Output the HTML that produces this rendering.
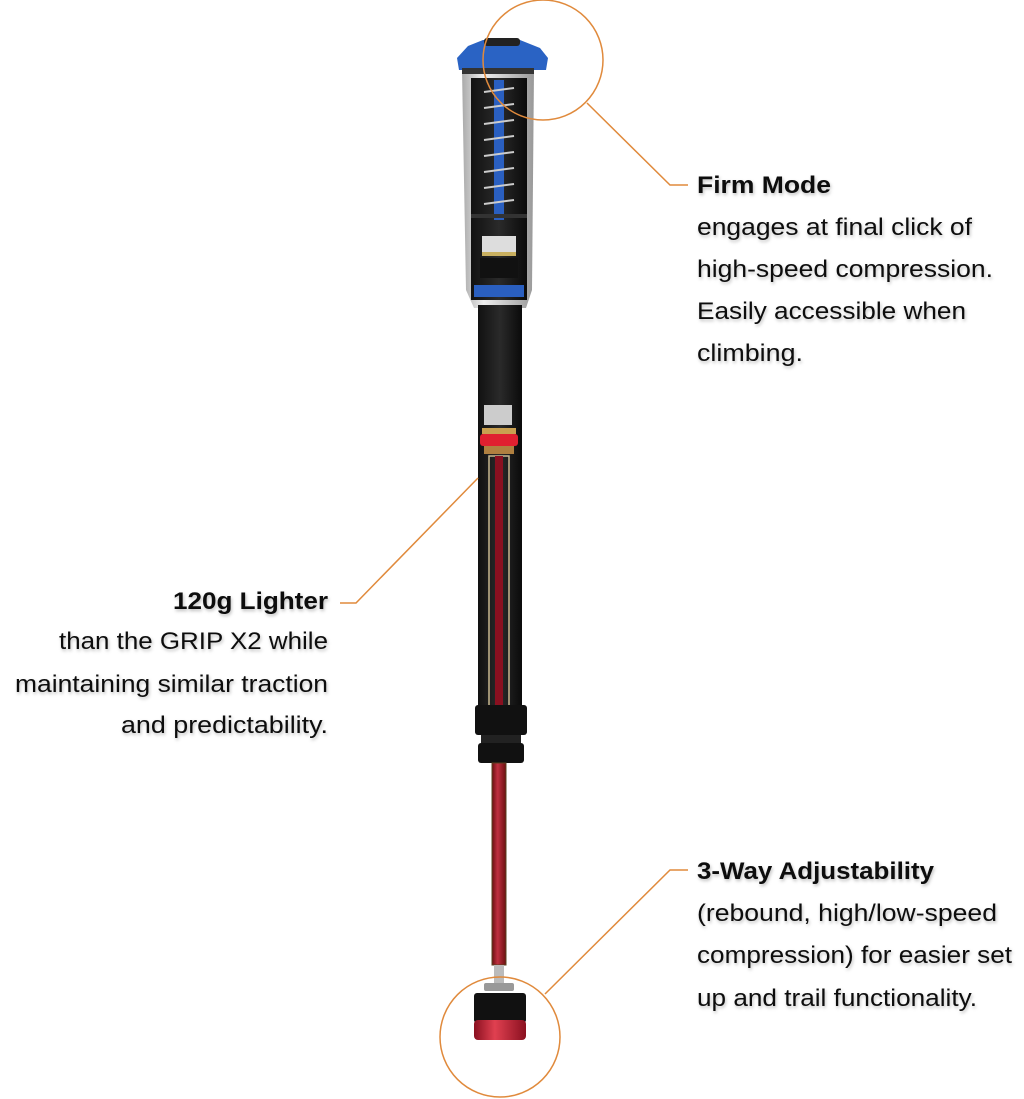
<!DOCTYPE html>
<html><head><meta charset="utf-8"><style>
html,body{margin:0;padding:0;background:#fff;}
svg{display:block}
text{font-family:"Liberation Sans",Arial,sans-serif;font-size:24.5px;fill:#111;}
.b{font-weight:bold}
</style></head><body>
<svg width="1024" height="1099" viewBox="0 0 1024 1099" xmlns="http://www.w3.org/2000/svg">
<defs>
<linearGradient id="blk" x1="0" x2="1"><stop offset="0" stop-color="#111"/><stop offset="0.5" stop-color="#2a2a2a"/><stop offset="1" stop-color="#0a0a0a"/></linearGradient>
<linearGradient id="gry" x1="0" x2="1"><stop offset="0" stop-color="#aaa"/><stop offset="0.3" stop-color="#eee"/><stop offset="1" stop-color="#999"/></linearGradient>
<linearGradient id="red" x1="0" x2="1"><stop offset="0" stop-color="#6a1010"/><stop offset="0.4" stop-color="#c03040"/><stop offset="1" stop-color="#6a1010"/></linearGradient>
<linearGradient id="red2" x1="0" x2="1"><stop offset="0" stop-color="#8a1020"/><stop offset="0.4" stop-color="#e04050"/><stop offset="1" stop-color="#8a1020"/></linearGradient>
<filter id="sh"><feDropShadow dx="1" dy="2" stdDeviation="1.5" flood-color="#000" flood-opacity="0.25"/></filter>
</defs>
<path d="M462 70 L534 70 L532 290 L526 308 L474 308 L466 290 Z" fill="url(#gry)"/>
<rect x="471" y="78" width="56" height="222" fill="url(#blk)"/>
<rect x="494" y="80" width="10" height="140" fill="#2a5fc0"/>
<g stroke="#ccc" stroke-width="2">
<line x1="484" y1="92" x2="514" y2="88"/><line x1="484" y1="108" x2="514" y2="104"/><line x1="484" y1="124" x2="514" y2="120"/><line x1="484" y1="140" x2="514" y2="136"/><line x1="484" y1="156" x2="514" y2="152"/><line x1="484" y1="172" x2="514" y2="168"/><line x1="484" y1="188" x2="514" y2="184"/><line x1="484" y1="204" x2="514" y2="200"/>
</g>
<rect x="471" y="214" width="56" height="4" fill="#333"/>
<rect x="482" y="236" width="34" height="18" fill="#ddd"/>
<rect x="482" y="252" width="34" height="4" fill="#c9b060"/>
<rect x="480" y="258" width="38" height="20" fill="#111"/>
<rect x="474" y="285" width="50" height="12" fill="#2a5fc0"/>
<path d="M457 58 L468 46 L483 40 L520 40 L540 48 L548 58 L546 70 L459 70 Z" fill="#2a63c4"/>
<rect x="484" y="38" width="36" height="8" rx="3" fill="#222"/>
<rect x="462" y="68" width="72" height="6" fill="#333"/>
<rect x="478" y="305" width="44" height="405" fill="url(#blk)"/>
<rect x="484" y="405" width="28" height="20" fill="#ccc"/>
<rect x="482" y="428" width="34" height="6" fill="#c9a050"/>
<rect x="480" y="434" width="38" height="12" rx="3" fill="#e02030"/>
<rect x="484" y="446" width="30" height="8" fill="#b08040"/>
<rect x="489" y="456" width="20" height="250" fill="none" stroke="#c8b890" stroke-width="1.5"/>
<rect x="495" y="456" width="8" height="250" fill="#8a1020"/>
<rect x="475" y="705" width="52" height="30" rx="3" fill="#111"/>
<rect x="481" y="735" width="40" height="8" fill="#222"/>
<rect x="478" y="743" width="46" height="20" rx="3" fill="#111"/>
<rect x="492" y="763" width="14" height="202" fill="url(#red)"/>
<rect x="492" y="763" width="14" height="202" fill="none" stroke="#5a4020" stroke-width="1"/>
<rect x="494" y="965" width="10" height="18" fill="#bbb"/>
<rect x="484" y="983" width="30" height="8" rx="2" fill="#999"/>
<rect x="474" y="993" width="52" height="30" rx="3" fill="#111"/>
<rect x="474" y="1020" width="52" height="20" rx="4" fill="url(#red2)"/>
<g fill="none" stroke="#e08a3c" stroke-width="1.5">
<circle cx="543" cy="60" r="60"/>
<polyline points="587,103 670,185 688,185"/>
<polyline points="478,478 356,603 340,603"/>
<circle cx="500" cy="1037" r="60"/>
<polyline points="545,994 670,870 688,870"/>
</g>
<g filter="url(#sh)">
<text class="b" x="697" y="193" textLength="134" lengthAdjust="spacingAndGlyphs">Firm Mode</text>
<text x="697" y="235" textLength="275" lengthAdjust="spacingAndGlyphs">engages at final click of</text>
<text x="697" y="277" textLength="296" lengthAdjust="spacingAndGlyphs">high-speed compression.</text>
<text x="697" y="319" textLength="269" lengthAdjust="spacingAndGlyphs">Easily accessible when</text>
<text x="697" y="361" textLength="106" lengthAdjust="spacingAndGlyphs">climbing.</text>
<text class="b" x="173" y="609" textLength="155" lengthAdjust="spacingAndGlyphs">120g Lighter</text>
<text x="59" y="649" textLength="269" lengthAdjust="spacingAndGlyphs">than the GRIP X2 while</text>
<text x="15" y="692" textLength="313" lengthAdjust="spacingAndGlyphs">maintaining similar traction</text>
<text x="121" y="733" textLength="207" lengthAdjust="spacingAndGlyphs">and predictability.</text>
<text class="b" x="697" y="879" textLength="237" lengthAdjust="spacingAndGlyphs">3-Way Adjustability</text>
<text x="697" y="921" textLength="300" lengthAdjust="spacingAndGlyphs">(rebound, high/low-speed</text>
<text x="697" y="963" textLength="315" lengthAdjust="spacingAndGlyphs">compression) for easier set</text>
<text x="697" y="1006" textLength="280" lengthAdjust="spacingAndGlyphs">up and trail functionality.</text>
</g>
</svg>
</body></html>
